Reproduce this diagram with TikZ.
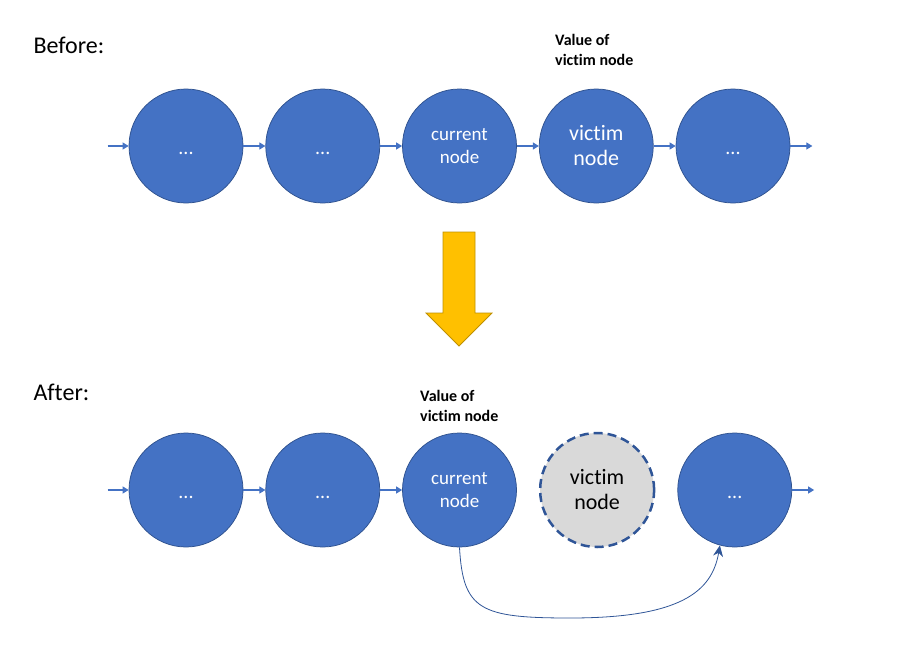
\documentclass[tikz,border=0pt]{standalone}
\usepackage{fontspec}
\setmainfont{Carlito}[Ligatures=NoCommon]
\usetikzlibrary{arrows.meta,positioning}
\definecolor{NodeBlue}{HTML}{4472C4}
\definecolor{EdgeBlue}{HTML}{2F528F}
\definecolor{DashBlue}{HTML}{2F5597}
\definecolor{GoneGray}{HTML}{D9D9D9}
\definecolor{ArrowGold}{HTML}{FFC000}
\definecolor{GoldEdge}{HTML}{BF9000}

\begin{document}
\begin{tikzpicture}[
    x=1pt, y=-1pt,
    node distance=22pt,
    % list element: filled blue circle with white text
    listnode/.style={circle, draw=EdgeBlue, line width=0.75pt, fill=NodeBlue, minimum size=114pt, inner sep=0pt, text=white, align=center, font=\fontsize{19}{23}\selectfont},
    bigtext/.style={font=\fontsize{22}{25}\selectfont},
    dots/.style={font=\fontsize{20}{22}\selectfont, text height=16pt, text depth=0pt},
    % element after removal: grey, dashed outline
    removed/.style={circle, draw=DashBlue, line width=2.5pt, dash pattern=on 9pt off 5pt, fill=GoneGray, minimum size=114pt, inner sep=0pt, align=center, font=\fontsize{22}{25}\selectfont},
    link/.style={-{Triangle[length=6pt,width=7pt]}, draw=NodeBlue, line width=1.2pt},
    heading/.style={anchor=base west, font=\fontsize{24}{29}\selectfont},
    note/.style={anchor=north west, inner sep=0pt, align=left, font=\bfseries\fontsize{16}{20}\selectfont},
    relink/.style={-{Stealth[length=11pt,width=10pt]}, draw=DashBlue, line width=0.8pt}
]
\useasboundingbox (0,0) rectangle (902,653);

% Before
\node[heading] (before) at (30,53) {Before:};
\node[listnode, dots] (c1a) at (186,146) {...};
\node[listnode, dots, right=of c1a] (c2a) {...};
\node[listnode, right=of c2a] (c3a) {current\\node};
\node[listnode, bigtext, right=of c3a] (c4a) {victim\\node};
\node[listnode, dots, right=of c4a] (c5a) {...};
\coordinate[left=21pt of c1a] (inA);
\coordinate[right=22pt of c5a] (outA);
\node[note] (valA) at (555,34) {Value of\\victim node};

\draw[link] (inA) -- (c1a);
\draw[link] (c1a) -- (c2a);
\draw[link] (c2a) -- (c3a);
\draw[link] (c3a) -- (c4a);
\draw[link] (c4a) -- (c5a);
\draw[link] (c5a) -- (outA);

% big yellow arrow
\draw[fill=ArrowGold, draw=GoldEdge, line width=0.75pt] (443,232) -- (475,232) -- (475,313) -- (492,313) -- (459,346) -- (426,313) -- (443,313) -- cycle;

% After
\node[heading] (after) at (30,400) {After:};
\node[listnode, dots] (c1b) at (186,490) {...};
\node[listnode, dots, right=of c1b] (c2b) {...};
\node[listnode, right=of c2b] (c3b) {current\\node};
\node[removed, right=of c3b] (c4b) {victim\\node};
\node[listnode, dots, right=of c4b] (c5b) {...};
\coordinate[left=21pt of c1b] (inB);
\coordinate[right=22pt of c5b] (outB);
\node[note] (valB) at (420,390) {Value of\\victim node};

\draw[link] (inB) -- (c1b);
\draw[link] (c1b) -- (c2b);
\draw[link] (c2b) -- (c3b);
\draw[link] (c5b) -- (outB);

% new next pointer, skipping the victim
\draw[relink] (c3b.south) .. controls (463,610) and (480,618) .. (570,618) .. controls (680,618) and (712,592) .. (c5b.255);

\end{tikzpicture}
\end{document}
